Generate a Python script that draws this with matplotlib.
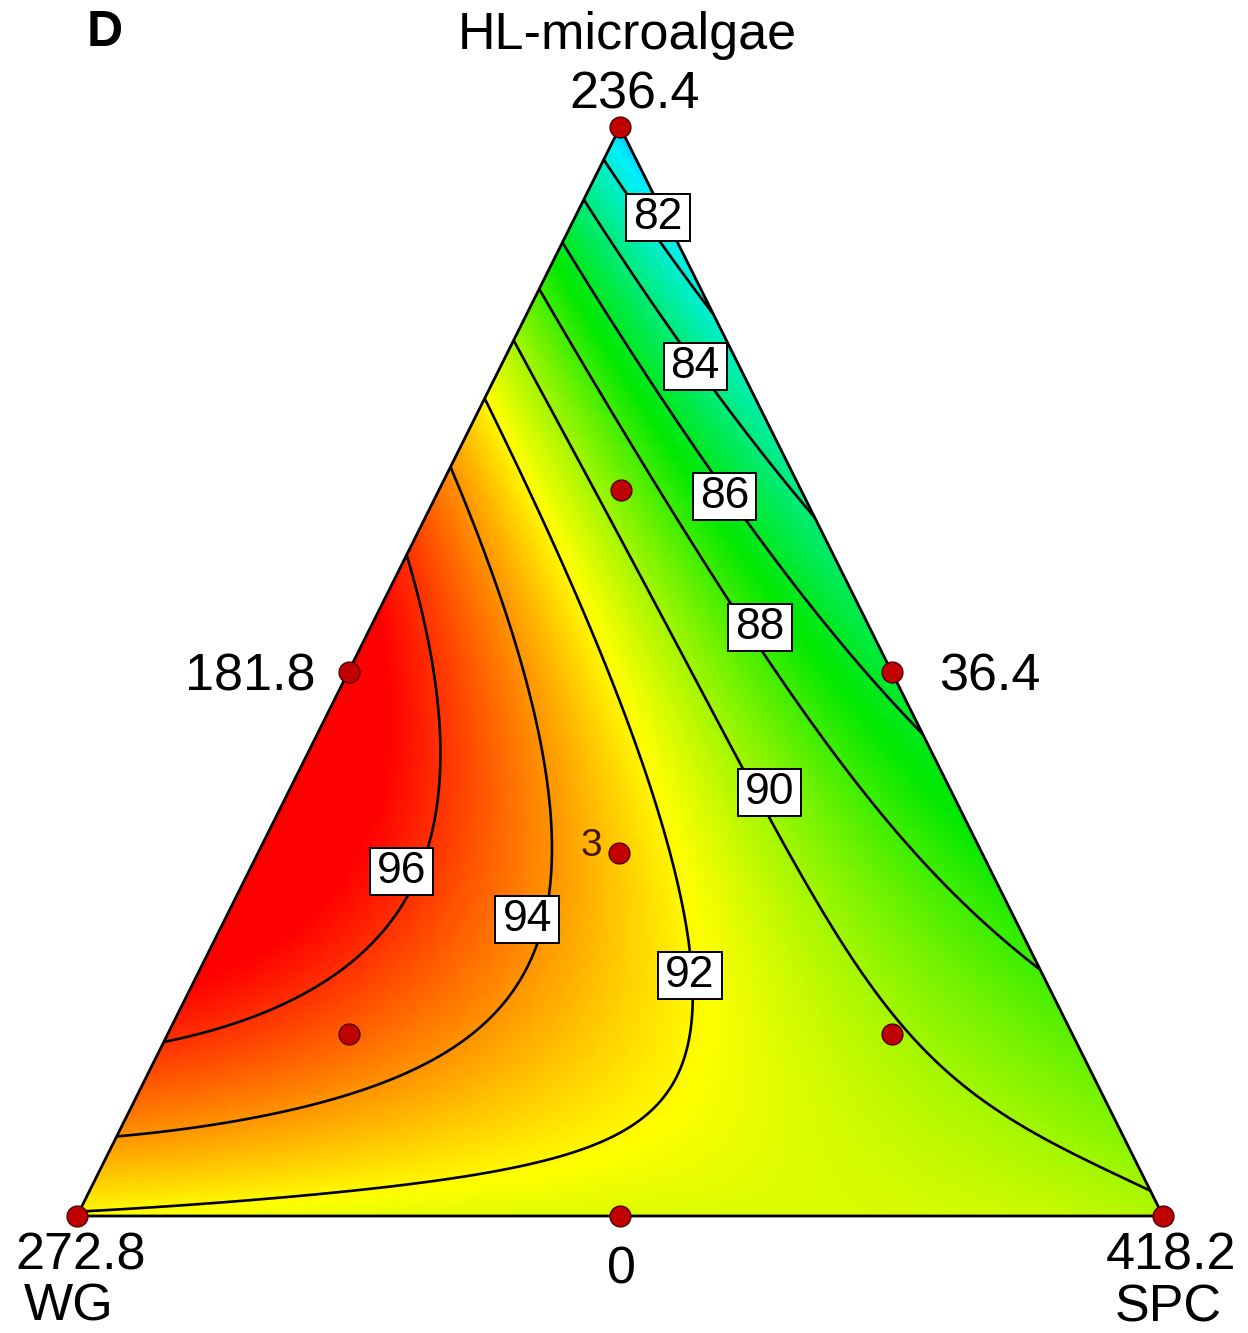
import numpy as np
import matplotlib
matplotlib.use("Agg")
import matplotlib.pyplot as plt
import matplotlib.tri as mtri
from matplotlib.colors import LinearSegmentedColormap, Normalize
from matplotlib.patches import Rectangle
from matplotlib.transforms import IdentityTransform

plt.rcParams['font.family'] = ['Liberation Sans', 'DejaVu Sans']

# ---------------- data ----------------
# contour levels of the response
levels = [82, 84, 86, 88, 90, 92, 94, 96]

# mixture compositions (HL fraction, SPC fraction; WG = rest) lying on each contour
c82_hl = [0.967, 0.942, 0.917, 0.893, 0.832]
c82_spc = [0.000, 0.035, 0.076, 0.092, 0.168]
c84_hl = [0.931, 0.896, 0.853, 0.811, 0.783, 0.7585, 0.719, 0.673, 0.630]
c84_spc = [0.000, 0.039, 0.088, 0.140, 0.177, 0.209, 0.260, 0.313, 0.370]
c86_hl = [0.892, 0.853, 0.804, 0.749, 0.713, 0.664, 0.636, 0.570, 0.513, 0.483, 0.431]
c86_spc = [0.000, 0.045, 0.100, 0.164, 0.208, 0.262, 0.301, 0.387, 0.455, 0.500, 0.569]
c88_hl = [0.852, 0.811, 0.749, 0.703, 0.657, 0.567, 0.542, 0.430, 0.335, 0.279, 0.230]
c88_spc = [0.000, 0.045, 0.113, 0.163, 0.210, 0.318, 0.358, 0.481, 0.606, 0.685, 0.770]
c90_hl = [0.804, 0.749, 0.688, 0.627, 0.566, 0.517, 0.474, 0.425, 0.377, 0.293, 0.219,
          0.171, 0.128, 0.091, 0.067, 0.045, 0.030]
c90_spc = [0.000, 0.057, 0.116, 0.168, 0.229, 0.285, 0.336, 0.391, 0.451, 0.535, 0.611,
           0.668, 0.740, 0.804, 0.862, 0.919, 0.970]
c92_hl = [0.752, 0.688, 0.627, 0.566, 0.504, 0.4435, 0.382, 0.3205, 0.223, 0.198, 0.162,
          0.122, 0.082, 0.058, 0.036, 0.021, 0.013, 0.008]
c92_spc = [0.000, 0.061, 0.122, 0.186, 0.245, 0.305, 0.352, 0.396, 0.453, 0.465, 0.480,
           0.478, 0.458, 0.408, 0.296, 0.180, 0.060, 0.000]
c94_hl = [0.6915, 0.6575, 0.596, 0.535, 0.474, 0.412, 0.352, 0.297, 0.251, 0.192, 0.143,
          0.1065, 0.085, 0.068]
c94_spc = [0.000, 0.039, 0.091, 0.140, 0.186, 0.224, 0.257, 0.282, 0.287, 0.292, 0.263,
           0.199, 0.106, 0.000]
c96_hl = [0.616, 0.566, 0.504, 0.4435, 0.382, 0.3425, 0.293, 0.244, 0.198, 0.168, 0.143]
c96_spc = [0.000, 0.039, 0.079, 0.110, 0.1365, 0.146, 0.151, 0.142, 0.1115, 0.065, 0.000]

# estimated responses at vertices / edges / plateau
anchor_hl = [1.0, 0.0, 0.0, 0.0, 0.0, 0.0, 0.30, 0.40, 0.50, 0.22, 0.10]
anchor_spc = [0.0, 0.0, 1.0, 0.25, 0.50, 0.75, 0.0, 0.0, 0.0, 0.0, 0.60]
anchor_val = [80.3, 91.8, 90.15, 91.75, 91.6, 91.2, 97.3, 97.3, 97.0, 96.9, 91.3]

# design points (HL, SPC fractions)
design_hl = [1.0, 0.0, 0.0, 0.5, 0.5, 0.0, 0.667, 0.167, 0.167, 0.333]
design_spc = [0.0, 0.0, 1.0, 0.0, 0.5, 0.5, 0.167, 0.167, 0.667, 0.333]
replicate_text = '3'

# contour label anchors (HL, SPC fractions), one per level
label_hl = [0.917, 0.7805, 0.661, 0.540, 0.389, 0.221, 0.272, 0.316]
label_spc = [0.0765, 0.179, 0.266, 0.359, 0.443, 0.454, 0.2785, 0.141]

# texts
panel = 'D'
top_name, left_name, right_name = 'HL-microalgae', 'WG', 'SPC'
top_val, left_val, right_val = '236.4', '272.8', '418.2'
left_mid, right_mid, bottom_mid = '181.8', '36.4', '0'

# ---------------- model fit (Scheffe-type polynomial) ----------------
DEG = 4


def basis(a, b, c, deg=DEG):
    cols = []
    for i in range(deg + 1):
        for j in range(deg + 1 - i):
            k = deg - i - j
            cols.append(a ** i * b ** j * c ** k)
    return np.column_stack(cols)


hl_all, spc_all, val_all, w_all = [], [], [], []
for lev, h, s in zip(levels,
                     [c82_hl, c84_hl, c86_hl, c88_hl, c90_hl, c92_hl, c94_hl, c96_hl],
                     [c82_spc, c84_spc, c86_spc, c88_spc, c90_spc, c92_spc, c94_spc, c96_spc]):
    hl_all += h
    spc_all += s
    val_all += [lev] * len(h)
    w_all += [1.0] * len(h)
hl_all += anchor_hl
spc_all += anchor_spc
val_all += anchor_val
w_all += [0.6] * len(anchor_hl)

hl_all = np.array(hl_all)
spc_all = np.array(spc_all)
val_all = np.array(val_all, dtype=float)
w_all = np.array(w_all)
wg_all = 1 - hl_all - spc_all

A = basis(hl_all, wg_all, spc_all)
coef, *_ = np.linalg.lstsq(A * w_all[:, None], val_all * w_all, rcond=None)


def model(h, s):
    return basis(h, 1 - h - s, s) @ coef


def to_xy(h, s):
    h = np.asarray(h, dtype=float)
    s = np.asarray(s, dtype=float)
    return s + 0.5 * h, h


# ---------------- triangular mesh ----------------
n = 220
offs = np.concatenate([[0], np.cumsum([n + 1 - i for i in range(n + 1)])])
H, S = [], []
for i in range(n + 1):
    for j in range(n + 1 - i):
        H.append(i / n)
        S.append(j / n)
H = np.array(H)
S = np.array(S)
tris = []
for i in range(n):
    for j in range(n - i):
        a = offs[i] + j
        b = offs[i] + j + 1
        c = offs[i + 1] + j
        tris.append((a, b, c))
        if j < n - i - 1:
            d = offs[i + 1] + j + 1
            tris.append((b, d, c))
X, Y = to_xy(H, S)
tri = mtri.Triangulation(X, Y, np.array(tris))
Z = model(H, S)

cmap = LinearSegmentedColormap.from_list(
    'de', [(0.0, '#0000ff'), (0.22, '#00f0ff'), (0.5, '#00e800'),
           (0.75, '#ffff00'), (1.0, '#ff0000')])
norm = Normalize(vmin=76.5, vmax=97.0)

# ---------------- figure ----------------
W, Hpx = 1248, 1333
fig = plt.figure(figsize=(W / 100, Hpx / 100), dpi=100)
fig.patch.set_facecolor('white')
ax = fig.add_axes([77 / W, (Hpx - 1216) / Hpx, 1086 / W, 1089 / Hpx])
ax.set_xlim(0, 1)
ax.set_ylim(0, 1)
ax.axis('off')

ax.tripcolor(tri, Z, shading='gouraud', cmap=cmap, norm=norm, zorder=1)
cs = ax.tricontour(tri, Z, levels=levels, colors='black', linewidths=1.9, zorder=3)

vx, vy = to_xy([1, 0, 0, 1], [0, 0, 1, 0])
ax.plot(vx, vy, color='black', lw=2.0, zorder=4, clip_on=False)

lx, ly = to_xy(label_hl, label_spc)
texts = ax.clabel(cs, levels=levels, manual=list(zip(lx, ly)), inline=False,
                  fontsize=32, fmt='%d', colors='black')
for t in texts:
    t.set_rotation(0)
    t.set_fontsize(32)
    t.set_zorder(7)
    t.set_ha('center')
    t.set_va('center')
    k = levels.index(int(round(float(t.get_text()))))
    t.set_position((lx[k], ly[k]))

dx, dy = to_xy(design_hl, design_spc)
ax.plot(dx, dy, 'o', ms=15, mfc='#c00000', mec='#500000', mew=1.0,
        zorder=8, clip_on=False, ls='none')
cx, cy = to_xy(design_hl[-1], design_spc[-1])
ax.annotate(replicate_text, (cx, cy), xytext=(-28, 7), textcoords='offset pixels',
            fontsize=28, color='#4a1500', ha='center', va='center', zorder=8)

fs = 37.5


def ftext(px, py, s, **kw):
    fig.text(px / W, 1 - py / Hpx, s, ha='center', va='center', **kw)


ftext(105, 33, panel, fontsize=36, fontweight='bold')
ftext(627, 35, top_name, fontsize=fs)
ftext(635, 95, top_val, fontsize=fs)
ftext(250, 677, left_mid, fontsize=fs)
ftext(990, 677, right_mid, fontsize=fs)
ftext(81, 1256, left_val, fontsize=fs)
ftext(69, 1307, left_name, fontsize=fs)
ftext(621, 1270, bottom_mid, fontsize=fs)
ftext(1171, 1256, right_val, fontsize=fs)
ftext(1168, 1308, right_name, fontsize=fs)

fig.canvas.draw()
renderer = fig.canvas.get_renderer()
for t in texts:
    bb = t.get_window_extent(renderer)
    r = Rectangle((bb.x0 - 7, bb.y0 - 3), bb.width + 14, bb.height + 6,
                  transform=IdentityTransform(), facecolor='white',
                  edgecolor='black', lw=1.4, zorder=6, clip_on=False)
    ax.add_artist(r)

fig.savefig('out.png', dpi=100, facecolor='white')
